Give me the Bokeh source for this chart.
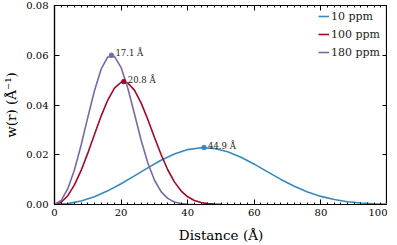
from bokeh.plotting import figure
from bokeh.models import (FixedTicker, LinearAxis, NumeralTickFormatter, Range1d,
                          ColumnDataSource, CustomJSTickFormatter)
from bokeh.core.properties import value
from bokeh.embed import file_html
from bokeh.resources import INLINE

# ---- data ----
dist_10 = [0, 4, 8, 12, 16, 20, 24, 28, 32, 36, 40, 44, 48, 52, 56, 60, 64, 68, 72, 76,
           80, 84, 88, 92, 96, 100]
w_10 = [0, 0.00035, 0.00141, 0.00314, 0.00549, 0.00833, 0.01150, 0.01474, 0.01777,
        0.02031, 0.02207, 0.02284, 0.02255, 0.02121, 0.01901, 0.01621, 0.01313, 0.01008,
        0.00733, 0.00503, 0.00326, 0.00198, 0.00113, 0.00060, 0.00030, 0.00014]

dist_100 = [0, 2, 4, 6, 8, 10, 12, 14, 16, 18, 20, 22, 24, 26, 28, 30, 32, 34, 36, 38,
            40, 42, 44, 46, 48, 50]
w_100 = [0, 0.00089, 0.00354, 0.00787, 0.01369, 0.02064, 0.02816, 0.03555, 0.04200,
         0.04675, 0.04915, 0.04887, 0.04597, 0.04086, 0.03427, 0.02707, 0.02009, 0.01397,
         0.00909, 0.00551, 0.00310, 0.00162, 0.00078, 0.00035, 0.00014, 0.00005]

dist_180 = [0, 2, 4, 6, 8, 10, 12, 14, 16, 18, 20, 22, 24, 26, 28, 30, 32, 34, 36, 38,
            40, 42]
w_180 = [0, 0.00160, 0.00635, 0.01399, 0.02391, 0.03501, 0.04575, 0.05438, 0.05931,
         0.05955, 0.05506, 0.04681, 0.03647, 0.02595, 0.01680, 0.00984, 0.00519, 0.00245,
         0.00103, 0.00038, 0.00013, 0.00003]

series_labels = ["10 ppm", "100 ppm", "180 ppm"]
series_colors = ["#348ABD", "#A60628", "#7A68A6"]

peak_x = [44.9, 20.8, 17.1]
peak_y = [0.0229, 0.0494, 0.0600]
peak_text = ["44.9 Å", "20.8 Å", "17.1 Å"]

x_ticks = [0, 20, 40, 60, 80, 100]
y_ticks = [0.0, 0.02, 0.04, 0.06, 0.08]
x_minor = [0, 2, 4, 6, 8, 10, 12, 14, 16, 18, 20, 22, 24, 26, 28, 30, 32, 34, 36, 38, 40,
           42, 44, 46, 48, 50, 52, 54, 56, 58, 60, 62, 64, 66, 68, 70, 72, 74, 76, 78, 80,
           82, 84, 86, 88, 90, 92, 94, 96, 98, 100]

FONT = "DejaVu Serif"

p = figure(frame_width=333, frame_height=199, output_backend="svg", toolbar_location=None,
           x_range=Range1d(0, 100), y_range=Range1d(0, 0.08),
           min_border_left=0, min_border_right=0, min_border_top=5, min_border_bottom=0)
p.background_fill_color = "white"
p.border_fill_color = "white"
p.outline_line_color = "black"
p.outline_line_width = 1.2
p.xgrid.visible = False
p.ygrid.visible = False

for d, w, lab, col in zip([dist_10, dist_100, dist_180], [w_10, w_100, w_180],
                          series_labels, series_colors):
    p.line(d, w, line_color=col, line_width=1.6, legend_label=lab)

src = ColumnDataSource(dict(x=peak_x, y=peak_y, t=peak_text, c=series_colors))
p.scatter("x", "y", source=src, size=4.5, color="c", line_color="c")
p.text("x", "y", text="t", source=src, x_offset=4, y_offset=-2,
       text_font=value(FONT), text_font_size="8.5px", text_color="#222222",
       text_baseline="alphabetic", text_align="left")

def style_axis(ax, labels=True):
    ax.axis_line_color = "black"
    ax.axis_line_width = 1.2
    ax.major_tick_in = 5
    ax.major_tick_out = 0
    ax.minor_tick_in = 2
    ax.minor_tick_out = 0
    ax.major_tick_line_color = "black"
    ax.major_tick_line_width = 1
    ax.minor_tick_line_color = "black"
    ax.minor_tick_line_width = 1
    ax.major_label_text_font = FONT
    ax.major_label_text_color = "black"
    ax.axis_label_text_font = FONT
    ax.axis_label_text_font_style = "normal"
    ax.axis_label_text_color = "black"
    if not labels:
        ax.formatter = CustomJSTickFormatter(code="return ''")
        ax.major_label_standoff = 0
        ax.axis_label = None

xa = p.xaxis[0]
xa.ticker = FixedTicker(ticks=x_ticks, minor_ticks=x_minor)
style_axis(xa)
xa.major_label_text_font_size = "10px"
xa.major_label_standoff = 4
xa.axis_label = "Distance (Å)"
xa.axis_label_text_font_size = "13.5px"
xa.axis_label_standoff = 8

ya = p.yaxis[0]
ya.ticker = FixedTicker(ticks=y_ticks)
ya.formatter = NumeralTickFormatter(format="0.00")
style_axis(ya)
ya.minor_tick_line_color = None
ya.major_label_text_font_size = "10px"
ya.major_label_standoff = 6
ya.axis_label = "w(r) (Å⁻¹)"
ya.axis_label_text_font_size = "13.5px"
ya.axis_label_standoff = 4

top = LinearAxis(ticker=FixedTicker(ticks=x_ticks, minor_ticks=x_minor))
style_axis(top, labels=False)
p.add_layout(top, "above")

right = LinearAxis(ticker=FixedTicker(ticks=y_ticks))
style_axis(right, labels=False)
right.minor_tick_line_color = None
p.add_layout(right, "right")

lg = p.legend[0]
lg.location = (264, 145)
lg.border_line_color = None
lg.background_fill_alpha = 0
lg.label_text_font = FONT
lg.label_text_font_size = "11px"
lg.label_text_color = "#222222"
lg.glyph_width = 11
lg.glyph_height = 14
lg.label_height = 14
lg.label_standoff = 2
lg.spacing = 4
lg.padding = 0
lg.margin = 0

open("out.html", "w").write(file_html(p, INLINE))
